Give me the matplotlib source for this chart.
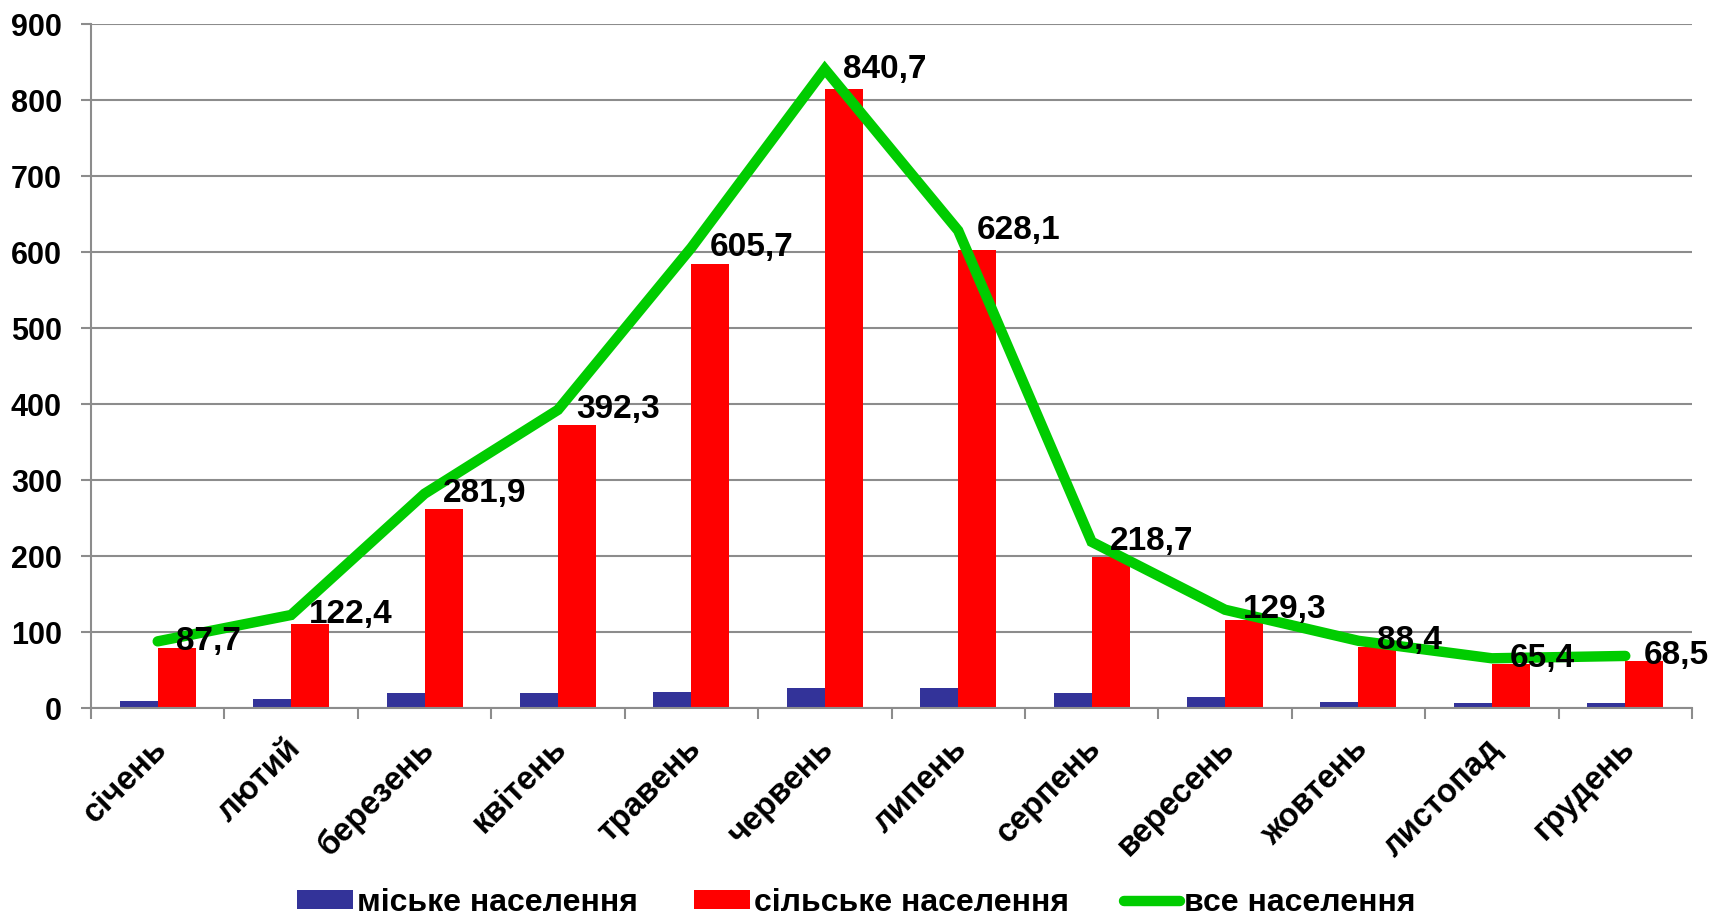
import numpy as np
import matplotlib
matplotlib.use("Agg")
import matplotlib.pyplot as plt
import matplotlib.transforms as mtrans

plt.rcParams.update({
    "font.family": ["Liberation Sans", "DejaVu Sans"],
    "font.weight": "bold",
})

months = ["січень", "лютий", "березень", "квітень", "травень", "червень",
          "липень", "серпень", "вересень", "жовтень", "листопад", "грудень"]
urban = [9, 12, 20, 20, 21, 26, 26, 20, 14, 8, 7, 6]
rural = [78.7, 110.4, 261.9, 372.3, 584.7, 814.7, 602.1, 198.7, 115.3, 80.4, 58.4, 62.5]
total = [87.7, 122.4, 281.9, 392.3, 605.7, 840.7, 628.1, 218.7, 129.3, 88.4, 65.4, 68.5]

BLUE = "#333399"
RED = "#FF0000"
GREEN = "#00CC00"
GRID = "#8C8C8C"

fig = plt.figure(figsize=(17.13, 9.17), dpi=100)
ax = fig.add_axes([91 / 1713, 1 - 708 / 917, (1692 - 91) / 1713, (708 - 24) / 917])

x = np.arange(len(months))
w = 0.285
b1 = ax.bar(x - w / 2, urban, width=w, color=BLUE, label="міське населення", zorder=2)
b2 = ax.bar(x + w / 2, rural, width=w, color=RED, label="сільське населення", zorder=2)
ln, = ax.plot(x, total, color=GREEN, lw=7.5, solid_capstyle="round", solid_joinstyle="miter",
              label="все населення", zorder=3)

for xi, v in zip(x, total):
    ax.annotate(f"{v:.1f}".replace(".", ","), (xi, v), xytext=(13, 0),
                textcoords="offset points", ha="left", va="center",
                fontsize=24, fontweight="bold", zorder=4)

ax.set_xlim(-0.5, 11.5)
ax.set_ylim(0, 900)
ax.set_yticks(range(0, 901, 100))
ax.grid(axis="y", color=GRID, lw=1.5, zorder=0)
ax.set_axisbelow(True)

for s in ["top", "right"]:
    ax.spines[s].set_visible(False)
for s in ["left", "bottom"]:
    ax.spines[s].set_color(GRID)
    ax.spines[s].set_linewidth(1.5)

ax.tick_params(axis="y", length=7, width=1.5, color=GRID, pad=14, labelsize=22)
ax.set_xticks(x)
ax.set_xticks(np.arange(-0.5, 12, 1), minor=True)
ax.tick_params(axis="x", which="major", length=0, pad=18, labelsize=23.5)
ax.tick_params(axis="x", which="minor", length=8, width=1.5, color=GRID)
ax.set_xticklabels(months, rotation=45, ha="right", va="top", rotation_mode="anchor")
off = mtrans.ScaledTranslation(-6.5 / 100, 0, fig.dpi_scale_trans)
for lbl in ax.get_xticklabels():
    lbl.set_transform(lbl.get_transform() + off)

ax.legend([b1, b2, ln], [b1.get_label(), b2.get_label(), ln.get_label()],
          loc="center", bbox_to_anchor=(0.5, (917 - 903) / 917), bbox_transform=fig.transFigure,
          ncol=3, frameon=False, fontsize=23, handlelength=1.75, handleheight=0.55,
          handletextpad=0.12, columnspacing=1.75)

fig.savefig("out.png", dpi=100)
